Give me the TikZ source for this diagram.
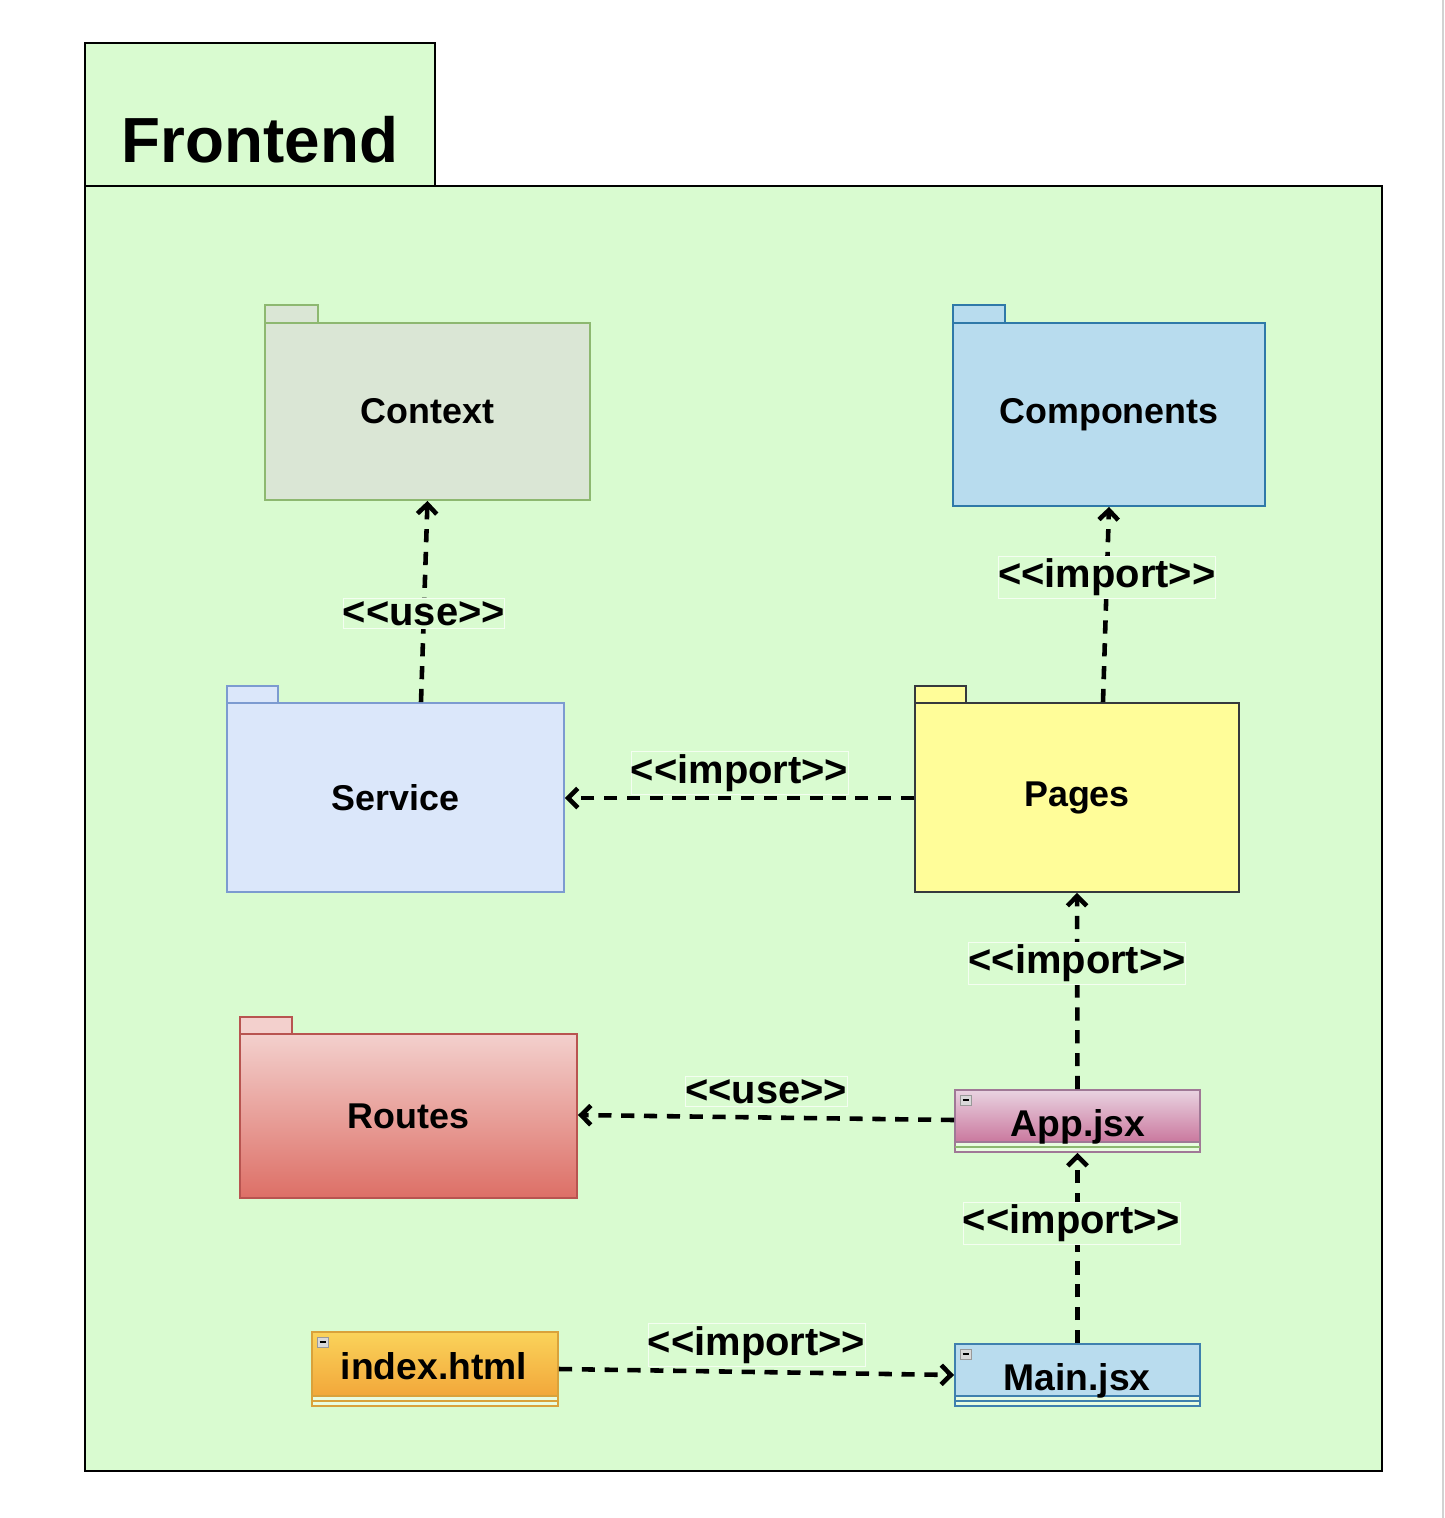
\documentclass[tikz,border=0pt]{standalone}
\usepackage{fontspec}
\newfontfamily\hv{Liberation Sans}
\usetikzlibrary{arrows.meta,calc}
\definecolor{bg}{HTML}{D9FBD0}
\definecolor{band}{HTML}{E8FCE0}
\definecolor{ctxF}{HTML}{DAE6D5}\definecolor{ctxD}{HTML}{8DB870}
\definecolor{cmpF}{HTML}{B8DCEE}\definecolor{cmpD}{HTML}{2F79A8}
\definecolor{srvF}{HTML}{DBE7FA}\definecolor{srvD}{HTML}{7C9BD0}
\definecolor{pgF}{HTML}{FFFD99}\definecolor{pgD}{HTML}{36393D}
\definecolor{rtT}{HTML}{F3D0CD}\definecolor{rtB}{HTML}{DD6F66}\definecolor{rtD}{HTML}{B85450}
\definecolor{apT}{HTML}{E9D3E1}\definecolor{apB}{HTML}{CA789E}\definecolor{apD}{HTML}{A07896}
\definecolor{mnF}{HTML}{B9DCEE}\definecolor{mnD}{HTML}{3F80AE}
\definecolor{ixT}{HTML}{FAD35A}\definecolor{ixB}{HTML}{F2A73A}\definecolor{ixD}{HTML}{D9A23B}
\newcommand\stereo[1]{<\kern0pt<#1>\kern0pt>}
\begin{document}
\begin{tikzpicture}[x=0.02cm,y=-0.02cm,
  pkg/.style={draw, line width=1.1pt, inner sep=0pt, font=\hv\bfseries\fontsize{20.4}{24}\selectfont},
  tab/.style={draw, line width=1.1pt},
  clsbox/.style={draw, line width=1.1pt, fill=band, inner sep=0pt, minimum width=4.9cm},
  clshead/.style={draw, line width=1.1pt, inner sep=0pt, minimum width=4.9cm},
  clstext/.style={anchor=base, inner sep=0pt, font=\hv\bfseries\fontsize{21.2}{25}\selectfont},
  dep/.style={line width=2.6pt, dash pattern=on 7.5pt off 5.5pt, -{Straight Barb[length=5.5pt,width=11pt]}},
  lbl/.style={solid, fill=bg, draw=white!70!bg, line width=0.4pt, inner xsep=0pt, inner ysep=1.5pt, font=\hv\bfseries\fontsize{22.7}{26}\selectfont},
  icon/.style={draw=gray!80, fill=gray!30, line width=0.5pt}
]
\useasboundingbox (0,0) rectangle (1444,1518);
\fill[white] (0,0) rectangle (1444,1518);
\draw[gray!35, line width=1.2pt] (1443,0) -- (1443,1518);

% frame
\draw[fill=bg, line width=0.8pt] (85,43) rectangle (435,186);
\draw[fill=bg, line width=0.8pt] (85,186) rectangle (1382,1471);
\node[font=\hv\bfseries\fontsize{36.3}{40}\selectfont] (title) at (260,140) {Frontend};

% packages
\draw[tab, fill=ctxF, draw=ctxD] (265,305) rectangle (318,323);
\node[pkg, fill=ctxF, draw=ctxD, minimum width=6.5cm, minimum height=3.54cm] (ctx) at (427.5,411.5) {Context};

\draw[tab, fill=cmpF, draw=cmpD] (953,305) rectangle (1005,323);
\node[pkg, fill=cmpF, draw=cmpD, minimum width=6.24cm, minimum height=3.66cm] (comp) at (1109,414.5) {Components};

\draw[tab, fill=srvF, draw=srvD] (227,686) rectangle (278,703);
\node[pkg, fill=srvF, draw=srvD, minimum width=6.74cm, minimum height=3.78cm] (service) at (395.5,797.5) {Service};

\draw[tab, fill=pgF, draw=pgD] (915,686) rectangle (966,703);
\node[pkg, fill=pgF, draw=pgD, minimum width=6.48cm, minimum height=3.78cm] (pages) at (1077,797.5) {Pages};

\draw[tab, fill=rtT, draw=rtD] (240,1017) rectangle (292,1034);
\node[pkg, top color=rtT, bottom color=rtB, draw=rtD, minimum width=6.74cm, minimum height=3.28cm] (routes) at (408.5,1116) {Routes};

% classes
\node[clsbox, draw=apD, minimum height=1.24cm] (app) at (1077.5,1121) {};
\node[clshead, top color=apT, bottom color=apB, draw=apD, minimum height=1.04cm] (appH) at (1077.5,1116) {};
\node[clstext] (appT) at (1078,1136) {App.jsx};
\draw[ctxD, line width=1.1pt] (955,1147) -- (1200,1147);
\draw[icon] (960,1095) rectangle (971,1105); \draw[line width=0.9pt] (962.5,1100) -- (968.5,1100);

\node[clsbox, draw=mnD, minimum height=1.24cm] (main) at (1077.5,1375) {};
\node[clshead, fill=mnF, draw=mnD, minimum height=1.04cm] (mainH) at (1077.5,1370) {};
\node[clstext] (mainT) at (1077,1390) {Main.jsx};
\draw[mnD, line width=1.1pt] (955,1401) -- (1200,1401);
\draw[icon] (960,1349) rectangle (971,1359); \draw[line width=0.9pt] (962.5,1354) -- (968.5,1354);

\node[clsbox, draw=ixD, minimum width=4.92cm, minimum height=1.48cm] (index) at (435,1369) {};
\node[clshead, top color=ixT, bottom color=ixB, draw=ixD, minimum width=4.92cm, minimum height=1.28cm] (indexH) at (435,1364) {};
\node[clstext] (indexT) at (434,1379) {index.html};
\draw[ixD, line width=1.1pt] (312,1401) -- (558,1401);
\draw[icon] (317,1337) rectangle (328,1347); \draw[line width=0.9pt] (319.5,1342) -- (325.5,1342);

% dependencies
\draw[dep] ($(service.north)+(25.5,0)$) -- (ctx.south)
  node[lbl, pos=0.44] {\stereo{use}};
\draw[dep] ($(pages.north)+(26,0)$) -- (comp.south)
  node[lbl, pos=0.64] {\stereo{import}};
\draw[dep] ($(pages.west)+(0,0.5)$) -- ($(service.east)+(0,0.5)$)
  node[lbl, pos=0.5, yshift=0.5cm] {\stereo{import}};
\draw[dep] (app.north) -- (pages.south)
  node[lbl, pos=0.64] {\stereo{import}};
\draw[dep] ($(app.west)+(0,-1)$) -- ($(routes.east)+(0,-1)$)
  node[lbl, pos=0.5, yshift=0.52cm] {\stereo{use}};
\draw[dep] (main.north) -- (app.south)
  node[lbl, pos=0.63, xshift=-0.12cm] {\stereo{import}};
\draw[dep] (index.east) -- (main.west)
  node[lbl, pos=0.5, yshift=0.54cm] {\stereo{import}};
\end{tikzpicture}
\end{document}
